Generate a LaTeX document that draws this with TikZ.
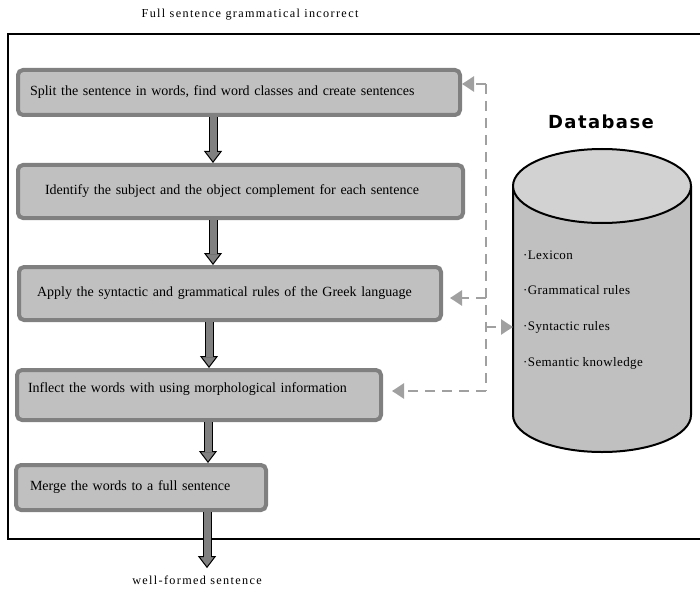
\documentclass[tikz,border=0pt]{standalone}
\usepackage{fontspec}
\setmainfont{Liberation Serif}
\newfontfamily\loosefont[LetterSpace=11]{Liberation Serif}
\newfontfamily\itemfont[LetterSpace=3]{Liberation Serif}
\newfontfamily\headfont[LetterSpace=8]{DejaVu Sans}
\usetikzlibrary{arrows.meta}

\definecolor{boxfill}{HTML}{C0C0C0}
\definecolor{boxline}{HTML}{808080}
\definecolor{flowgray}{HTML}{808080}
\definecolor{dashgray}{HTML}{A0A0A0}
\definecolor{dbtop}{HTML}{D2D2D2}
\definecolor{dbbody}{HTML}{C0C0C0}

\tikzset{
    stepbox/.style={draw=boxline, fill=boxfill, line width=4pt, rounded corners=5pt,
        anchor=north west, align=left, font=\fontsize{14}{17}\selectfont},
    note/.style={font=\loosefont\fontsize{12.2}{14}\selectfont},
    dbitem/.style={anchor=west, inner sep=0pt, font=\itemfont\fontsize{13}{15}\selectfont},
    flowarrow/.style={draw=black, line width=9pt,
        -{Triangle[length=12pt, width=18pt, line width=1pt, fill=flowgray]},
        postaction={draw=flowgray, line width=7pt, -, shorten >=11pt}},
    dbline/.style={draw=dashgray, line width=2.5pt, dash pattern=on 10pt off 7pt},
    dbarrow/.style={dbline, -{Triangle[length=12pt, width=15pt]}}
}

\begin{document}
\begin{tikzpicture}[x=1pt, y=1pt]
        \useasboundingbox (0,0) rectangle (700,590);
        %\draw[gray, dashed] (0,0) grid[step=50] (700,590);

        \draw[line width=2pt] (700,556) -- (8,556) -- (8,51) -- (700,51);

        \node[note] (input) at (250,575) {Full sentence grammatical incorrect};
        \node[note] (output) at (197,10) {well-formed sentence};

        % steps
        \node[stepbox, minimum width=442pt, minimum height=45pt, text width=418pt, inner xsep=12pt]
            (split) at (16,522) {Split the sentence in words, find word classes and create sentences};
        \node[stepbox, minimum width=445pt, minimum height=53pt, text width=391pt, inner xsep=27pt]
            (identify) at (16,427) {Identify the subject and the object complement for each sentence};
        \node[stepbox, minimum width=422pt, minimum height=53pt, text width=386pt, inner xsep=18pt]
            (apply) at (17,325) {Apply the syntactic and grammatical rules of the Greek language};
        \node[stepbox, minimum width=364pt, minimum height=50pt, text width=342pt, inner xsep=11pt, text depth=15pt]
            (inflect) at (15,222) {Inflect the words with using morphological information};
        \node[stepbox, minimum width=250pt, minimum height=45pt, text width=222pt, inner xsep=14pt]
            (merge) at (14,127) {Merge the words to a full sentence};

        \coordinate (a1) at ([xshift=-26pt]split.south);
        \coordinate (a2) at ([xshift=-27.5pt]identify.south);
        \coordinate (a3) at ([xshift=-21pt]apply.south);
        \coordinate (a4) at ([xshift=9pt]inflect.south);
        \coordinate (a5) at ([xshift=66pt]merge.south);
        \draw[flowarrow] (a1) -- (a1 |- identify.north);
        \draw[flowarrow] (a2) -- (a2 |- apply.north);
        \draw[flowarrow] (a3) -- (a3 |- inflect.north);
        \draw[flowarrow] (a4) -- (a4 |- merge.north);
        \draw[flowarrow, shorten >=4pt] (a5) -- (a5 |- output.north);

        % database
        \node[font=\headfont\bfseries\fontsize{18}{20}\selectfont] (dbname) at (601,468) {Database};
        \filldraw[fill=dbbody, line width=2pt] (513,404) -- (513,175)
            arc[start angle=180, end angle=360, x radius=89pt, y radius=37pt] -- (691,404);
        \filldraw[fill=dbtop, line width=2pt] (602,404) ellipse [x radius=89pt, y radius=37pt];

        \node[dbitem] (lexicon) at (523,335) {·Lexicon};
        \node[dbitem] (grammar) at (523,300) {·Grammatical rules};
        \node[dbitem] (syntax) at (523,263) {·Syntactic rules};
        \node[dbitem] (semantic) at (523,227) {·Semantic knowledge};

        \coordinate (bustop) at (486,506);
        \coordinate (busbot) at (486,199);
        \coordinate (busapply) at (486,292);
        \coordinate (busdb) at (486,263);
        \coordinate (dbside) at (513,263);
        \draw[dbline] (bustop) -- (busbot);
        \draw[dbarrow] (bustop) -- (split.east |- bustop);
        \draw[dbarrow, shorten >=7pt] (busapply) -- (apply.east |- busapply);
        \draw[dbarrow, shorten >=9pt] (busbot) -- (inflect.east |- busbot);
        \draw[dbarrow] (busdb) -- (dbside);
    \end{tikzpicture}
\end{document}
